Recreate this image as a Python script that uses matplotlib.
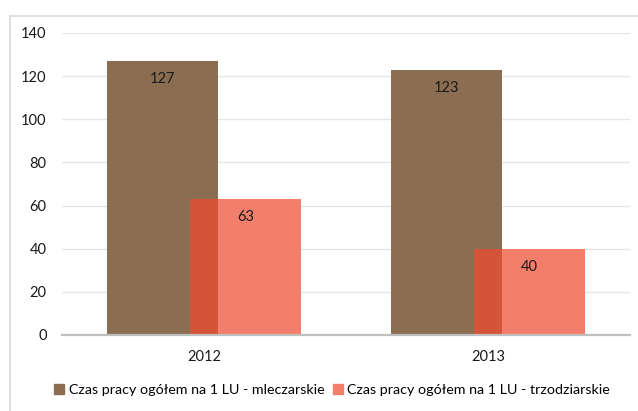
import numpy as np
import matplotlib.pyplot as plt
from matplotlib.patches import Patch
from matplotlib.lines import Line2D

# data
years = ['2012', '2013']
mleczarskie = [127, 123]
trzodziarskie = [63, 40]
labels = ['Czas pracy ogółem na 1 LU - mleczarskie',
          'Czas pracy ogółem na 1 LU - trzodziarskie']

brown = '#8B6D52'
salmon = '#F27F6C'
overlap = '#D35438'

plt.rcParams['font.family'] = ['Lato', 'DejaVu Sans']

fig = plt.figure(figsize=(6.38, 4.11), dpi=100)
ax = fig.add_axes([0.0972, 0.185, 0.89, 0.735])

x = np.arange(len(years))
w = 0.39
off = 0.146

ax.bar(x - off, mleczarskie, w, color=brown, zorder=2)
ax.bar(x + off, trzodziarskie, w, color=salmon, zorder=2)
# overlapping part of the two bars
ov_w = 2 * (w / 2 - off)
ax.bar(x, np.minimum(mleczarskie, trzodziarskie), ov_w, color=overlap, zorder=3)

for xi, v in zip(x - off, mleczarskie):
    ax.annotate(str(v), (xi, v), xytext=(0, -13), textcoords='offset points',
                ha='center', va='center', fontsize=10.5, color='#1a1a1a', zorder=4)
for xi, v in zip(x + off, trzodziarskie):
    ax.annotate(str(v), (xi, v), xytext=(0, -13), textcoords='offset points',
                ha='center', va='center', fontsize=10.5, color='#1a1a1a', zorder=4)

ax.set_xlim(-0.5, 1.5)
ax.set_ylim(0, 140)
ax.set_yticks(range(0, 141, 20))
ax.set_xticks(x)
ax.set_xticklabels(years)
ax.tick_params(axis='both', length=0, labelsize=10.5, colors='#1a1a1a')
ax.tick_params(axis='y', pad=11)
ax.tick_params(axis='x', pad=11)
ax.grid(axis='y', color='#E6E6E6', linewidth=1, zorder=0)
for s in ['top', 'right', 'left']:
    ax.spines[s].set_visible(False)
ax.spines['bottom'].set_color('#BFBFBF')
ax.spines['bottom'].set_linewidth(1.6)
ax.spines['bottom'].set_zorder(5)

# chart area border (left and top edges)
fig.add_artist(Line2D([10 / 638, 10 / 638], [0, 1 - 16 / 411], color='#D9D9D9', lw=1.2))
fig.add_artist(Line2D([10 / 638, 1], [1 - 16 / 411, 1 - 16 / 411], color='#D9D9D9', lw=1.2))

handles = [Patch(color=brown), Patch(color=salmon)]
fig.legend(handles, labels, loc='center', bbox_to_anchor=(332 / 638, 0.051), ncol=2,
           frameon=False, fontsize=10.3, handlelength=0.7, handleheight=0.7,
           handletextpad=0.3, columnspacing=0.6)

fig.savefig('out.png', dpi=100)
